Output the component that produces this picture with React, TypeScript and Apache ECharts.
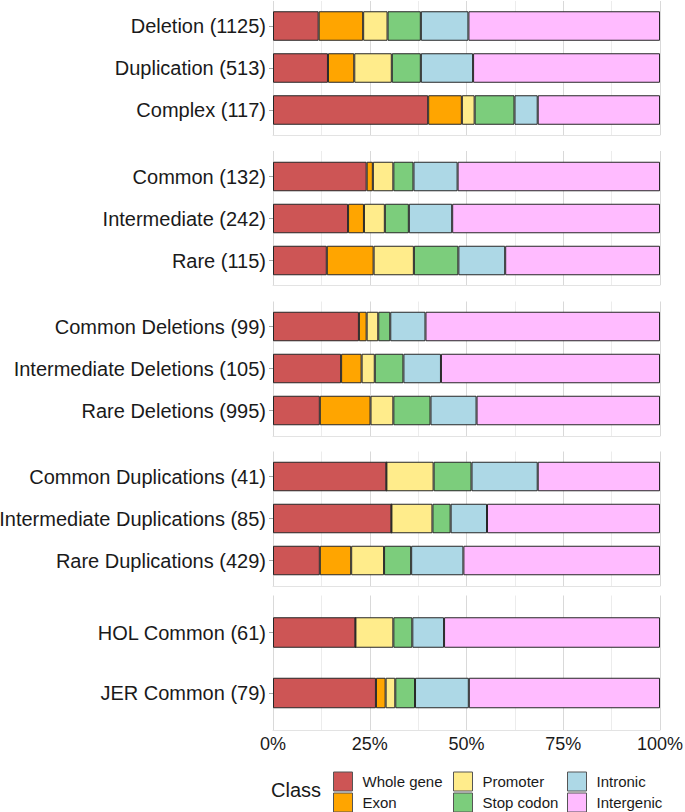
import React, { useEffect, useRef } from "react";
import * as echarts from "echarts";

// Row labels for each facet panel
const panel1Labels = ["Deletion (1125)", "Duplication (513)", "Complex (117)"];
const panel2Labels = ["Common (132)", "Intermediate (242)", "Rare (115)"];
const panel3Labels = ["Common Deletions (99)", "Intermediate Deletions (105)", "Rare Deletions (995)"];
const panel4Labels = ["Common Duplications (41)", "Intermediate Duplications (85)", "Rare Duplications (429)"];
const panel5Labels = ["HOL Common (61)", "JER Common (79)"];

const classNames = ["Whole gene", "Exon", "Promoter", "Stop codon", "Intronic", "Intergenic"];
const classColors = ["#CD5555", "#FFA500", "#FFEC8B", "#7CCD7C", "#ADD8E6", "#FFBBFF"];

// Percent of each class per row (rows in the order of the panels above)
const wholeGene = [11.8, 14.2, 40.1, 24.2, 19.4, 13.9, 22.2, 17.6, 12.1, 29.3, 30.6, 12.1, 21.3, 26.6];
const exon = [11.5, 6.8, 8.7, 1.6, 4.1, 12.1, 2.0, 5.3, 13.1, 0, 0, 8.1, 0, 2.5];
const promoter = [6.3, 9.7, 3.3, 5.3, 5.4, 10.4, 3.0, 3.4, 5.9, 12.2, 10.6, 8.5, 9.8, 2.5];
const stopCodon = [8.6, 7.5, 10.3, 5.2, 6.2, 11.5, 3.1, 7.4, 9.6, 9.8, 4.7, 7.0, 4.9, 5.1];
const intronic = [12.3, 13.5, 6.0, 11.4, 11.2, 12.1, 9.1, 9.7, 11.9, 17.1, 9.4, 13.5, 8.2, 13.9];
const intergenic = [49.5, 48.3, 31.6, 52.3, 53.7, 40.0, 60.6, 56.6, 47.4, 31.6, 44.7, 50.8, 55.8, 49.4];

const xTicks = [0, 25, 50, 75, 100];

const FONT = "'Liberation Sans', Arial, Helvetica, sans-serif";

export default function App() {
  const ref = useRef<HTMLDivElement>(null);

  useEffect(() => {
    if (!ref.current) return;
    const chart = echarts.init(ref.current, null, { renderer: "svg" });

    const panels = [panel1Labels, panel2Labels, panel3Labels, panel4Labels, panel5Labels];
    const classValues = [wholeGene, exon, promoter, stopCodon, intronic, intergenic];
    // background (gridline) areas and bar areas per panel
    const bgBoxes = [
      { top: 1, height: 134 },
      { top: 151, height: 134 },
      { top: 301.5, height: 134.5 },
      { top: 451.5, height: 134.5 },
      { top: 595.5, height: 134.5 },
    ];
    const barBoxes = [
      { top: 5, height: 126, bw: 29.5 },
      { top: 155.5, height: 126, bw: 29.5 },
      { top: 305.5, height: 126, bw: 29.5 },
      { top: 455.5, height: 126, bw: 29.5 },
      { top: 602.25, height: 121, bw: 30.5 },
    ];

    const grid: any[] = [];
    const xAxis: any[] = [];
    const yAxis: any[] = [];
    const series: any[] = [];
    let rowOffset = 0;

    panels.forEach((labels, p) => {
      const bgIdx = grid.length;
      grid.push({
        left: 273,
        width: 387,
        top: bgBoxes[p].top,
        height: bgBoxes[p].height,
        containLabel: false,
        outerBoundsMode: "none",
      });
      const isLast = p === panels.length - 1;
      xAxis.push({
        type: "value",
        gridIndex: bgIdx,
        min: 0,
        max: 100,
        interval: 25,
        axisLine: { show: true, lineStyle: { color: "#e3e3e3", width: 1 } },
        axisTick: { show: false },
        axisLabel: {
          show: isLast,
          formatter: (v: number) => (xTicks.includes(v) ? v + "%" : ""),
          fontSize: 18,
          color: "#1a1a1a",
          fontFamily: FONT,
          margin: 5,
        },
        splitLine: { show: true, lineStyle: { color: "#d9d9d9", width: 1 } },
        minorTick: { show: false, splitNumber: 2 },
        minorSplitLine: { show: true, lineStyle: { color: "#ececec", width: 1 } },
      });
      yAxis.push({ type: "value", gridIndex: bgIdx, min: 0, max: 1, show: false });

      const barIdx = grid.length;
      grid.push({
        left: 273,
        width: 387,
        top: barBoxes[p].top,
        height: barBoxes[p].height,
        containLabel: false,
        outerBoundsMode: "none",
      });
      xAxis.push({ type: "value", gridIndex: barIdx, min: 0, max: 100, show: false });
      yAxis.push({
        type: "category",
        gridIndex: barIdx,
        data: labels,
        inverse: true,
        axisLine: { show: false },
        axisTick: { show: true, alignWithLabel: true, length: 4, lineStyle: { color: "#a6a6a6" } },
        axisLabel: { fontSize: 20, color: "#1a1a1a", fontFamily: FONT, margin: 7 },
        splitLine: { show: false },
      });

      classNames.forEach((name, c) => {
        series.push({
          type: "bar",
          name,
          xAxisIndex: barIdx,
          yAxisIndex: barIdx,
          stack: "panel" + p,
          barWidth: barBoxes[p].bw,
          data: classValues[c].slice(rowOffset, rowOffset + labels.length),
          itemStyle: { color: classColors[c], borderColor: "#262626", borderWidth: 1 },
          emphasis: { disabled: true },
        });
      });
      rowOffset += labels.length;
    });

    const legendBase = {
      orient: "vertical",
      top: 771.5,
      height: 60,
      padding: 0,
      itemWidth: 19,
      itemHeight: 19,
      itemGap: 1,
      selectedMode: false,
      icon: "rect",
      itemStyle: { borderColor: "#555555", borderWidth: 1 },
      textStyle: { fontSize: 15, color: "#1a1a1a", fontFamily: FONT, padding: [0, 0, 0, 5] },
    };

    chart.setOption({
      animation: false,
      backgroundColor: "#ffffff",
      textStyle: { fontFamily: FONT },
      title: {
        text: "Class",
        left: 271,
        top: 780,
        padding: 0,
        textStyle: { fontSize: 20, fontWeight: "normal", color: "#1a1a1a", fontFamily: FONT },
      },
      legend: [
        { ...legendBase, left: 333, data: [classNames[0], classNames[1]] },
        { ...legendBase, left: 453, data: [classNames[2], classNames[3]] },
        { ...legendBase, left: 567, data: [classNames[4], classNames[5]] },
      ],
      grid,
      xAxis,
      yAxis,
      series,
    });

    return () => chart.dispose();
  }, []);

  return (
    <div
      ref={ref}
      style={{ position: "fixed", left: 0, top: 0, width: 685, height: 812, background: "#fff" }}
    />
  );
}
